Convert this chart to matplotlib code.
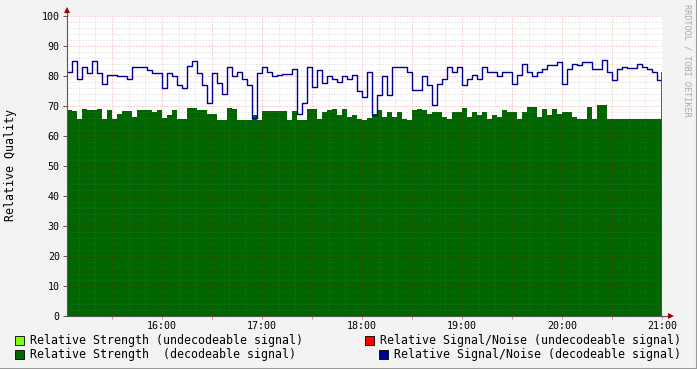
import pandas as pd
import matplotlib
matplotlib.use("Agg")
import matplotlib.pyplot as plt
import matplotlib.dates as mdates
from matplotlib.ticker import MultipleLocator, FuncFormatter
from matplotlib.patches import Rectangle
from matplotlib.lines import Line2D

plt.rcParams['font.family'] = ['DejaVu Sans Mono']

# 3-minute samples, 15:03 .. 21:00
times = pd.date_range("2024-01-01 15:03", periods=120, freq="3min")

# relative strength (decodeable signal)
strength_ok = [
    68.6, 68.3, 65.8, 69.1, 68.6, 68.6, 69.1, 65.8, 68.6, 65.8, 67.4, 68.2,
    68.2, 66.3, 68.6, 68.6, 68.6, 68.0, 68.6, 66.0, 66.9, 68.6, 65.8, 65.8,
    69.3, 69.3, 68.6, 68.6, 67.4, 67.4, 65.2, 65.2, 69.3, 69.1, 65.2, 65.2,
    65.2, 66.9, 65.2, 68.2, 68.2, 68.2, 68.2, 68.2, 65.2, 68.2, 65.2, 65.2,
    69.1, 69.1, 65.8, 68.0, 68.6, 69.1, 66.9, 69.1, 66.3, 66.9, 65.8, 65.2,
    66.0, 67.4, 68.6, 66.3, 68.0, 66.3, 68.0, 65.8, 65.2, 68.6, 69.1, 68.6,
    67.4, 68.0, 68.0, 66.3, 65.8, 68.0, 68.0, 69.3, 66.3, 68.0, 66.9, 68.0,
    65.8, 66.9, 66.3, 68.6, 68.0, 68.0, 65.8, 68.0, 69.7, 69.7, 66.3, 69.1,
    66.9, 69.1, 67.4, 68.0, 68.0, 66.3, 65.8, 65.8, 69.7, 65.8, 70.2, 70.2,
    65.8, 65.8, 65.8, 65.8, 65.8, 65.8, 65.8, 65.8, 65.8, 65.8, 65.8, 65.8,
]

# relative signal/noise (decodeable signal)
snr_ok = [
    81.3, 85.0, 79.0, 83.0, 81.0, 85.0, 81.0, 77.5, 80.5, 80.5, 80.0, 80.0,
    79.0, 83.0, 83.0, 83.0, 82.0, 81.0, 81.0, 76.0, 81.0, 80.0, 77.0, 76.0,
    83.5, 85.0, 81.0, 77.0, 71.0, 81.0, 77.6, 74.0, 83.0, 80.0, 81.5, 79.0,
    77.0, 66.0, 81.0, 83.0, 81.5, 80.0, 80.5, 80.7, 80.7, 82.4, 67.4, 71.0,
    83.0, 76.3, 82.0, 77.6, 80.0, 79.0, 78.0, 80.0, 79.0, 80.5, 75.0, 73.0,
    81.3, 67.0, 73.6, 80.0, 73.6, 83.0, 83.0, 83.0, 81.3, 75.3, 75.3, 80.0,
    77.0, 70.2, 77.3, 79.0, 83.0, 81.5, 83.0, 77.0, 79.0, 80.5, 79.0, 83.0,
    81.3, 81.3, 80.0, 81.3, 81.3, 77.3, 80.5, 84.0, 81.3, 80.0, 81.3, 82.4,
    83.6, 83.6, 84.7, 77.4, 82.4, 84.0, 83.6, 84.7, 84.7, 82.5, 82.4, 85.3,
    81.3, 78.6, 82.4, 83.0, 82.7, 82.7, 84.0, 83.0, 82.4, 81.5, 78.7, 81.3,
]

# relative signal/noise (undecodeable signal): only the last sample
snr_bad_time = [pd.Timestamp("2024-01-01 21:00")]
snr_bad_value = [81.3]

legend_items = [
    ("Relative Strength (undecodeable signal)", "#80FF00"),
    ("Relative Strength  (decodeable signal)", "#006600"),
    ("Relative Signal/Noise (undecodeable signal)", "#FF0000"),
    ("Relative Signal/Noise (decodeable signal)", "#000099"),
]

W, H = 697, 369
fig = plt.figure(figsize=(W / 100, H / 100), dpi=100, facecolor="#F3F3F3")
ax = fig.add_axes([67 / W, 1 - 316 / H, 595 / W, 300 / H])
ax.set_facecolor("white")

ax.fill_between(times, strength_ok, step="post", color="#006600", lw=0, zorder=1)
ax.step(times, snr_ok, where="post", color="#000099", lw=1.0, zorder=3)
ax.vlines(snr_bad_time, 0, snr_bad_value, color="#FF0000", lw=1.3, zorder=4)

ax.set_xlim(times[0], times[-1])
ax.set_ylim(0, 100)

# grid, rrdtool style
ax.set_axisbelow(False)
ax.xaxis.set_major_locator(mdates.MinuteLocator(byminute=[0, 30]))
ax.xaxis.set_minor_locator(mdates.MinuteLocator(byminute=range(0, 60, 10)))
ax.xaxis.set_major_formatter(FuncFormatter(
    lambda v, p: mdates.num2date(v).strftime("%H:%M") if mdates.num2date(v).minute == 0 else ""))
ax.yaxis.set_major_locator(MultipleLocator(10))
ax.yaxis.set_minor_locator(MultipleLocator(2))

ax.grid(which="minor", color="#808080", alpha=0.3, lw=0.72, ls=(0, (1, 2)))
ax.grid(which="major", color="#E00000", alpha=0.35, lw=0.72, ls=(0, (1, 2)))

ax.tick_params(axis="y", which="major", length=3, width=0.7, color="#555555",
               labelsize=7.2, pad=2.2)
ax.tick_params(axis="x", which="major", length=2.2, width=0.7, color="#F08080",
               labelsize=7.2, pad=1.5)
ax.tick_params(which="minor", length=0)

for s in ax.spines.values():
    s.set_visible(False)

# axis lines with arrow heads
ax.add_line(Line2D([0, 0], [0, 1 + 4 / 300], transform=ax.transAxes,
                   color="#555555", lw=0.8, clip_on=False, zorder=5))
ax.add_line(Line2D([0, 1 + 7 / 595], [0, 0], transform=ax.transAxes,
                   color="#555555", lw=0.8, clip_on=False, zorder=5))
ax.plot([0], [1 + 6 / 300], marker="^", ms=4, color="#A00000", mew=0,
        transform=ax.transAxes, clip_on=False, zorder=6)
ax.plot([1 + 9 / 595], [0], marker=">", ms=4, color="#A00000", mew=0,
        transform=ax.transAxes, clip_on=False, zorder=6)

fig.text(11 / W, 1 - 165 / H, "Relative Quality", rotation=90,
         ha="center", va="center", fontsize=8.4)
fig.text(687 / W, 1 - 4 / H, "RRDTOOL / TOBI OETIKER", rotation=270,
         ha="center", va="top", fontsize=6.1, color="#AAAAAA")

# legend
pos = [(15, 336, 30), (15, 350, 30), (365, 336, 380), (379, 350, 394)]
for (label, col), (bx, by, tx) in zip(legend_items, pos):
    fig.add_artist(Rectangle((bx / W, 1 - (by + 9) / H), 9 / W, 9 / H,
                             transform=fig.transFigure, fc=col, ec="black", lw=0.6))
    fig.text(tx / W, 1 - (by + 4.5) / H, label, ha="left", va="center", fontsize=8.35)

# frame
fig.add_artist(Line2D([0, 1], [0.5 / H, 0.5 / H], transform=fig.transFigure,
                      color="#999999", lw=1.5))
fig.add_artist(Line2D([1 - 0.5 / W, 1 - 0.5 / W], [0, 1], transform=fig.transFigure,
                      color="#999999", lw=1.5))

fig.savefig("out.png", dpi=100, facecolor=fig.get_facecolor())
